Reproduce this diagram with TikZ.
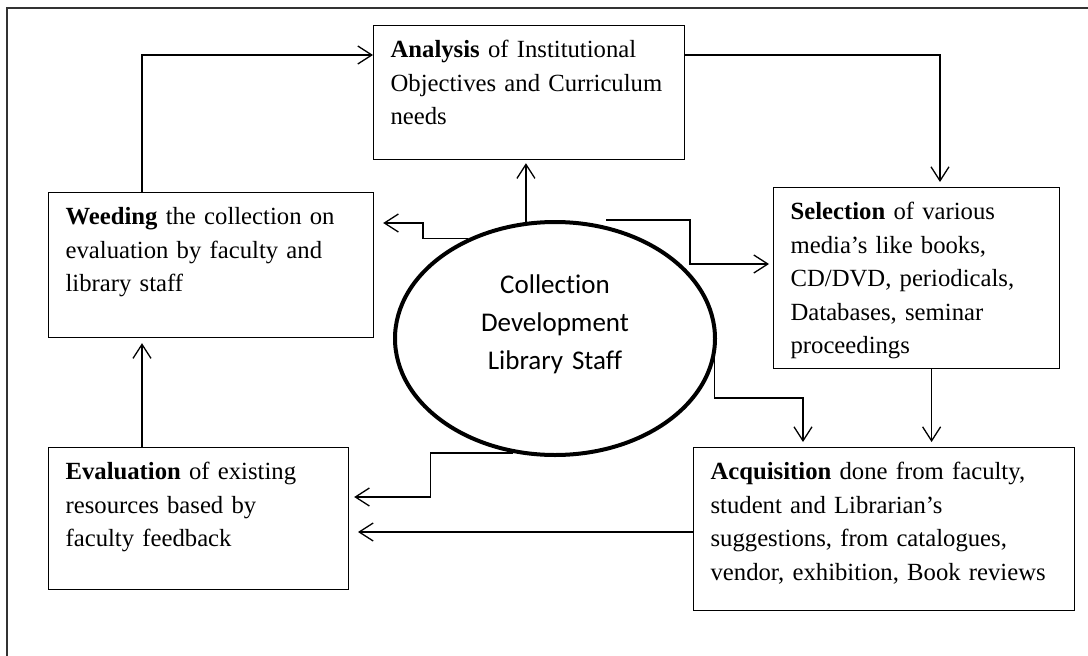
\documentclass[tikz,border=0pt]{standalone}
\usepackage{fontspec}
\setmainfont{Liberation Serif}
\newfontfamily\stafffont[Ligatures=NoCommon]{Carlito}
\usetikzlibrary{arrows.meta,shapes.geometric}
\hyphenpenalty=10000
\tikzset{
  stagebox/.style={draw, line width=1.2pt, anchor=north west, align=left, inner xsep=17pt, inner ysep=0pt, text height=32pt, font=\fontsize{24.7}{33.5}\selectfont},
  staffellipse/.style={draw, ellipse, line width=4pt, align=center, text width=200pt, minimum width=320pt, minimum height=233pt, inner sep=0pt, text height=20pt, text depth=111pt, font=\stafffont\fontsize{27}{38}\selectfont},
  flow/.style={-{Straight Barb[length=14pt,width=18pt]}, line width=1.3pt},
  frameline/.style={line width=2pt, black!80}
}
\begin{document}
\begin{tikzpicture}[x=1pt, y=-1pt]
\useasboundingbox (0,0) rectangle (1088,656);
\draw[frameline] (7,680) -- (7,8) -- (1110,8);

% the five stages
\node[stagebox, text width=277pt, text depth=102pt] (ana) at (373,25)
  {\textbf{Analysis} of Institutional\\ Objectives and~Curriculum\\ needs};
\node[stagebox, text width=291pt, text depth=113pt] (weed) at (48,192)
  {\textbf{Weeding} the collection on\\ evaluation by faculty and\\ library staff};
\node[stagebox, text width=252pt, text depth=149pt] (sel) at (773,187)
  {\textbf{Selection} of various\\ media’s like books,\\ CD/DVD,~periodicals,\\ Databases, seminar\\ proceedings};
\node[stagebox, text width=266pt, text depth=110pt] (eva) at (48,447)
  {\textbf{Evaluation} of existing\\ resources based by\\ faculty feedback};
\node[stagebox, text width=347pt, text depth=131pt] (acq) at (693,447)
  {\textbf{Acquisition} done from faculty,\\ student and Librarian’s\\ suggestions, from catalogues,\\ vendor, exhibition, Book reviews};

% centre
\node[staffellipse] (staff) at (555,338.5) {Collection\\ Development\\ Library Staff};

% cycle
\draw[flow] ([xshift=94pt]weed.north west) |- ([yshift=-30pt]ana.north west);
\draw[flow, shorten >=5pt] ([yshift=-30pt]ana.north east) -| ([xshift=167pt]sel.north west);
\draw[flow, shorten >=5pt] ([xshift=15pt]sel.south) -- ([xshift=15pt]sel.south |- acq.north);
\draw[flow, shorten >=5pt] ([yshift=-85pt]acq.north west) -- ++(-340,0);
\draw[flow, shorten >=5pt] ([xshift=94pt]eva.north west) -- ([xshift=94pt]weed.south west);

% from the staff
\draw[flow, shorten >=3pt] (staff.104) -- (staff.104 |- ana.south);
\draw[flow] (staff.131) -- ++(-45,0) |- ([xshift=9pt,yshift=-31pt]weed.north east);
\draw[flow] ([xshift=51pt]staff.north) -- ++(84,0) |- ([xshift=-4pt,yshift=-77pt]sel.north west);
\draw[flow, shorten >=5pt] (staff.-7) -- ++(0,40) -| ([xshift=110pt]acq.north west);
\draw[flow] (staff.250) -- ++(-83,0) |- ([xshift=5pt,yshift=-50pt]eva.north east);
\end{tikzpicture}
\end{document}
